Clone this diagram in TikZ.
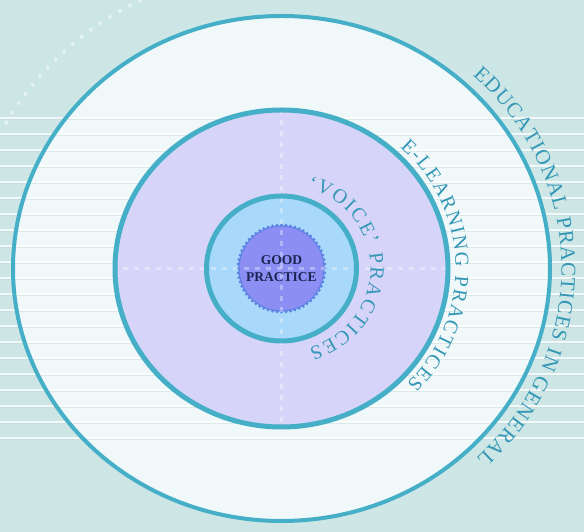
\documentclass[tikz,border=0pt]{standalone}
\usepackage{fontspec}
\setmainfont{Liberation Serif}
\usetikzlibrary{decorations.text}
\definecolor{ringcol}{HTML}{46AFC8}
\definecolor{lav}{HTML}{D7D4FA}
\definecolor{lblue}{HTML}{A8D8FA}
\definecolor{gearcol}{HTML}{8C8EF4}
\definecolor{geardot}{HTML}{5C82E4}
\definecolor{txtcol}{HTML}{3497B6}
\definecolor{bgout}{HTML}{CCE6E5}
\definecolor{bgin}{HTML}{EEF7F7}
\definecolor{ringfill}{HTML}{F1F8F9}
\definecolor{navy}{HTML}{1C2452}
\definecolor{lineshadow}{HTML}{BFD8D8}
\tikzset{
  ringline/.style={draw=ringcol},
  curvetext/.style={decorate, decoration={text along path, text align={fit to path}, text={#1}}},
  bgline/.style={white, line width=1.4pt, opacity=.75},
  bgshadow/.style={lineshadow, line width=.6pt, opacity=.45},
  crossdash/.style={white, opacity=.35, line width=3pt, dash pattern=on 5pt off 6pt}
}
\begin{document}
\begin{tikzpicture}[x=1pt,y=1pt]
\useasboundingbox (0,0) rectangle (584,532);
\shade[inner color=bgin, outer color=bgout] (0,0) rectangle (584,532);
\coordinate (C) at (281.5,263.5);
% outer ring fill
\fill[ringfill] (C) ellipse [x radius=268.5pt, y radius=252.5pt];
% horizontal background lines
\foreach \k in {0,...,20}{
  \draw[bgline] (0,{532-118-16*\k}) -- (584,{532-118-16*\k});
  \draw[bgshadow] (0,{532-119.8-16*\k}) -- (584,{532-119.8-16*\k});
}
% dotted arc top left
\draw[white, opacity=.45, line width=3.5pt, dash pattern=on 3.5pt off 8pt]
  ([shift={(C)}]110:315pt and 300pt) arc[start angle=110, end angle=152, x radius=315pt, y radius=300pt];
% outer ellipse
\draw[ringline, line width=4pt] (C) ellipse [x radius=268.5pt, y radius=252.5pt];
% second (e-learning) disc
\fill[lav] (C) ellipse [x radius=166.5pt, y radius=158.5pt];
% third (voice) disc
\fill[lblue] (C) ellipse [x radius=75pt, y radius=72.5pt];
% gear
\fill[gearcol] (C) circle (43pt);
\draw[geardot, line width=1pt] (C) circle (42.5pt);
\foreach \a in {0,6,...,354}{
  \fill[geardot] ([shift={(C)}]\a:43.5pt) circle (1.6pt);
}
% dashed cross
\begin{scope}
\clip (C) ellipse [x radius=165pt, y radius=157pt];
\draw[crossdash] ([shift={(C)}]-170,0) -- ([shift={(C)}]170,0);
\draw[crossdash] ([shift={(C)}]0,-165) -- ([shift={(C)}]0,165);
\end{scope}
\draw[ringline, line width=5pt] (C) ellipse [x radius=166.5pt, y radius=158.5pt];
\draw[ringline, line width=5pt] (C) ellipse [x radius=75pt, y radius=72.5pt];
% centre text
\node[font=\fontsize{13.5pt}{16.5pt}\selectfont\bfseries, text=navy, align=center, inner sep=0pt] (gp) at (C) {GOOD\\PRACTICE};
% curved texts
\path[curvetext={|\fontsize{21pt}{23pt}\selectfont\color{txtcol}|EDUCATIONAL PRACTICES IN GENERAL}]
  ([shift={(C)}]47:280pt and 264pt) arc[start angle=47, end angle=-46, x radius=280pt, y radius=264pt];
\path[curvetext={|\fontsize{20pt}{22pt}\selectfont\color{txtcol}|E-LEARNING PRACTICES}]
  ([shift={(C)}]47:174pt and 166pt) arc[start angle=47, end angle=-44, x radius=174pt, y radius=166pt];
\path[curvetext={|\fontsize{20pt}{22pt}\selectfont\color{txtcol}|‘VOICE’ PRACTICES}]
  ([shift={(C)}]73:89pt and 84pt) arc[start angle=73, end angle=-72, x radius=89pt, y radius=84pt];
\end{tikzpicture}
\end{document}
